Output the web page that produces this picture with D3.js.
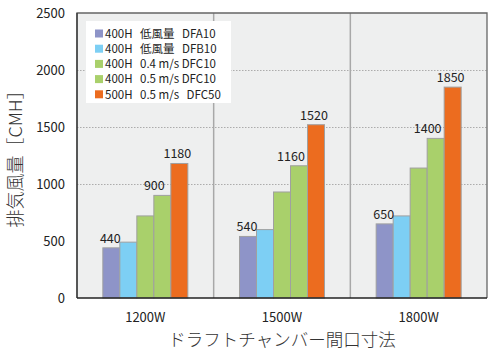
<!DOCTYPE html>
<html><head><meta charset="utf-8">
<script src="https://cdn.jsdelivr.net/npm/d3@7"></script>
<style>
html,body{margin:0;padding:0;background:#fff;}
svg{display:block;}
text{font-family:"Noto Sans CJK JP","Noto Sans",sans-serif;}
</style></head>
<body>
<svg id="c" width="500" height="355"></svg>
<script>
const categories = ["1200W", "1500W", "1800W"];
const seriesNames = [
  "400H  低風量  DFA10",
  "400H  低風量  DFB10",
  "400H  0.4 m/s DFC10",
  "400H  0.5 m/s DFC10",
  "500H  0.5 m/s  DFC50"
];
const dfa10 = [440, 540, 650];
const dfb10 = [490, 600, 720];
const dfc10_04 = [720, 930, 1140];
const dfc10_05 = [900, 1160, 1400];
const dfc50 = [1180, 1520, 1850];
const yTicks = [0, 500, 1000, 1500, 2000, 2500];
const gridValues = [1000, 1500, 2000];
const labeledSeries = [0, 3, 4];
const yTitle = "排気風量［CMH］";
const xTitle = "ドラフトチャンバー間口寸法";

const colors = ["#8e94c8", "#7dcff4", "#a9d06b", "#a9d06b", "#ec6c1f"];
const labelDx = [-1, -8, -2, -8, -2];
const series = [dfa10, dfb10, dfc10_04, dfc10_05, dfc50];

const svg = d3.select("#c");
const L = 77, R = 487, T = 13, B = 298;

const x = d3.scaleBand().domain(categories).range([L, R]).padding(0);
const barW = 17;
const xs = d3.scaleBand().domain(d3.range(series.length)).range([0, barW * series.length]);
const y = d3.scaleLinear().domain([0, 2500]).range([B, T]);

// background
svg.append("rect").attr("x", L).attr("y", T).attr("width", R - L).attr("height", B - T).attr("fill", "#eeefef");

// grid
svg.selectAll(".grid").data(gridValues).enter().append("line")
  .attr("x1", L).attr("x2", R).attr("y1", d => y(d) + 0.5).attr("y2", d => y(d) + 0.5)
  .attr("stroke", "#9a9a9a").attr("stroke-width", 0.8).attr("stroke-dasharray", "1.5,1.5");

// group separators
svg.selectAll(".sep").data(categories.slice(1)).enter().append("line")
  .attr("x1", d => x(d)).attr("x2", d => x(d)).attr("y1", T).attr("y2", B)
  .attr("stroke", "#a8a8a8").attr("stroke-width", 1.5);

// bars
const groups = svg.selectAll(".g").data(categories).enter().append("g")
  .attr("transform", d => `translate(${x(d) + (x.bandwidth() - barW * series.length) / 2},0)`);
series.forEach((s, si) => {
  groups.append("rect")
    .attr("x", xs(si)).attr("width", xs.bandwidth())
    .attr("y", (d, ci) => y(s[ci])).attr("height", (d, ci) => B - y(s[ci]))
    .attr("fill", colors[si]).attr("stroke", "#a0a0a0").attr("stroke-width", 1);
});
labeledSeries.forEach(si => {
  groups.append("text")
    .attr("x", xs(si) + xs.bandwidth() / 2 + labelDx[si])
    .attr("y", (d, ci) => y(series[si][ci]) - 5)
    .attr("text-anchor", "middle").attr("font-size", 12.5).attr("fill", "#222")
    .text((d, ci) => series[si][ci]);
});

// frame
svg.append("path").attr("d", `M${L},${B}V${T}H${R}V${B}`).attr("fill", "none").attr("stroke", "#666").attr("stroke-width", 1.3);
svg.append("line").attr("x1", L).attr("x2", L).attr("y1", T).attr("y2", B).attr("stroke", "#333").attr("stroke-width", 1.3);
svg.append("line").attr("x1", L).attr("x2", R).attr("y1", B).attr("y2", B).attr("stroke", "#222").attr("stroke-width", 1.5);

// y axis
const ya = svg.append("g").attr("transform", `translate(${L},0)`)
  .call(d3.axisLeft(y).tickValues(yTicks).tickSize(0).tickPadding(12).tickFormat(d3.format("d")));
ya.select(".domain").remove();
ya.selectAll("text").attr("font-size", 13).attr("fill", "#222").attr("font-family", "'Noto Sans CJK JP','Noto Sans',sans-serif");

// x axis
const xa = svg.append("g").attr("transform", `translate(0,${B})`)
  .call(d3.axisBottom(x).tickSize(0).tickPadding(14.5));
xa.select(".domain").remove();
xa.selectAll("text").attr("font-size", 13).attr("fill", "#222").attr("font-family", "'Noto Sans CJK JP','Noto Sans',sans-serif");

// titles
svg.append("text").attr("x", (L + R) / 2).attr("y", 346).attr("text-anchor", "middle")
  .attr("font-size", 17.5).attr("font-weight", 300).attr("fill", "#333").text(xTitle);
svg.append("text").attr("transform", `translate(22,${(T + B) / 2 - 1}) rotate(-90)`).attr("text-anchor", "middle")
  .attr("font-size", 18).attr("font-weight", 300).attr("fill", "#333").text(yTitle);

// legend
const lg = svg.append("g");
lg.append("rect").attr("x", 86).attr("y", 21).attr("width", 145).attr("height", 82).attr("fill", "#fff");
seriesNames.forEach((n, i) => {
  const cy = 33.5 + i * 15.2;
  lg.append("rect").attr("x", 95).attr("y", cy - 4).attr("width", 8).attr("height", 8).attr("fill", colors[i]);
  const t = lg.append("text").attr("x", 105).attr("y", cy + 4.2).attr("font-size", 11.5).attr("fill", "#222");
  n.split(/\s{2,}/).forEach((part, j) => {
    t.append("tspan").attr("dx", j > 0 ? 7.5 : 0).text(part);
  });
});
</script>
</body></html>
